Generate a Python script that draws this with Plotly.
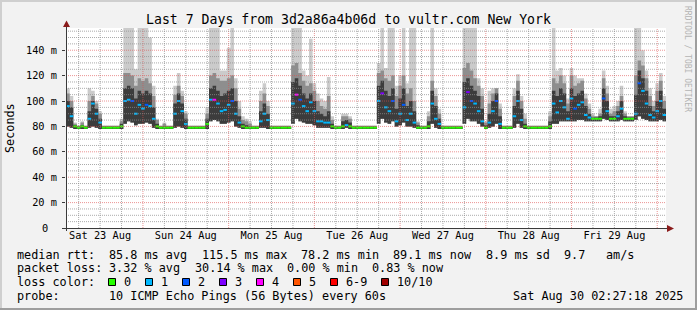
import plotly.graph_objects as go
from datetime import datetime, timedelta

# ---------------- data (hourly, Sat 23 Aug 02:00 .. Sat 30 Aug 02:00) ----------------
median_ms = [
    97, 96, 88, 80, 79, 80, 79, 86, 98, 90, 83, 79, 79, 79, 79, 79, 80, 100, 101, 100, 90, 97,
    94, 97, 96, 86, 80, 79, 79, 79, 79, 90, 100, 92, 82, 79, 79, 79, 79, 79, 82, 101, 101, 98, 92, 93,
    97, 100, 90, 83, 80, 79, 79, 79, 79, 84, 90, 85, 79, 79, 79, 79, 79, 79, 98, 105, 101, 96, 92, 99,
    92, 84, 84, 83, 83, 80, 79, 79, 80, 81, 80, 79, 79, 79, 79, 79, 79, 79, 100, 106, 95, 92, 100, 84,
    90, 97, 85, 90, 83, 79, 79, 79, 80, 98, 86, 82, 79, 79, 79, 79, 79, 79, 95, 107, 100, 98, 92, 84,
    79, 83, 92, 100, 82, 79, 79, 79, 88, 100, 85, 80, 79, 79, 79, 79, 79, 79, 80, 98, 91, 100, 95, 86,
    102, 94, 97, 99, 89, 87, 86, 86, 86, 102, 92, 86, 86, 88, 94, 86, 86, 86, 90, 114, 108, 98, 89, 87,
    92, 100, 89,
]
loss_count = [
    1, 1, 1, 0, 0, 0, 0, 1, 1, 1, 1, 0, 0, 0, 0, 0, 0, 1, 1, 2, 1, 1,
    1, 2, 1, 1, 0, 0, 0, 0, 0, 1, 1, 1, 1, 0, 0, 0, 0, 0, 0, 1, 4, 1, 1, 1,
    1, 2, 1, 1, 0, 0, 0, 0, 0, 1, 1, 1, 0, 0, 0, 0, 0, 0, 1, 4, 2, 1, 1, 1,
    1, 1, 1, 1, 1, 0, 0, 0, 0, 1, 0, 0, 0, 0, 0, 0, 0, 0, 1, 3, 1, 1, 2, 1,
    1, 2, 1, 1, 1, 0, 0, 0, 0, 1, 1, 1, 0, 0, 0, 0, 0, 0, 1, 3, 2, 1, 1, 1,
    0, 1, 1, 2, 1, 0, 0, 0, 1, 1, 1, 0, 0, 0, 0, 0, 0, 0, 0, 1, 1, 1, 1, 1,
    1, 2, 1, 1, 1, 1, 0, 0, 0, 2, 1, 0, 0, 1, 1, 0, 0, 0, 1, 2, 1, 1, 1, 1,
    1, 1, 1,
]
smoke_lo = [
    80, 80, 79, 78, 78, 78, 78, 79, 80, 79, 78, 78, 78, 78, 78, 78, 78, 82, 84, 83, 81, 82,
    82, 83, 82, 79, 78, 78, 78, 78, 78, 79, 80, 79, 78, 78, 78, 78, 78, 78, 78, 84, 85, 84, 82, 82,
    83, 84, 80, 79, 78, 78, 78, 78, 78, 79, 79, 78, 78, 78, 78, 78, 78, 78, 82, 86, 84, 83, 82, 82,
    81, 79, 79, 79, 79, 78, 78, 78, 78, 79, 78, 78, 78, 78, 78, 78, 78, 78, 82, 86, 83, 82, 84, 80,
    81, 83, 80, 80, 79, 78, 78, 78, 78, 82, 79, 78, 78, 78, 78, 78, 78, 78, 82, 86, 84, 84, 82, 80,
    78, 79, 80, 82, 78, 78, 78, 78, 79, 82, 79, 78, 78, 78, 78, 78, 78, 78, 78, 82, 82, 84, 84, 84,
    84, 84, 85, 85, 84, 84, 84, 84, 84, 86, 85, 84, 84, 84, 85, 84, 84, 84, 85, 88, 86, 85, 84, 84,
    84, 85, 84,
]
smoke_core = [
    100, 100, 95, 81, 80, 81, 80, 92, 100, 94, 86, 80, 80, 80, 80, 80, 82, 110, 112, 110, 102, 108,
    106, 108, 106, 95, 82, 80, 80, 80, 80, 98, 106, 98, 86, 80, 80, 80, 80, 80, 86, 110, 112, 108, 104, 106,
    108, 110, 100, 88, 82, 81, 80, 80, 80, 92, 98, 90, 80, 80, 80, 80, 80, 80, 115, 118, 112, 106, 102, 106,
    100, 92, 90, 88, 92, 82, 80, 80, 84, 85, 83, 80, 80, 80, 80, 80, 80, 80, 112, 116, 108, 104, 110, 94,
    102, 110, 96, 100, 92, 81, 80, 80, 84, 108, 96, 86, 80, 80, 80, 80, 80, 80, 115, 118, 112, 108, 104, 94,
    81, 90, 100, 106, 88, 80, 80, 80, 96, 108, 94, 82, 80, 80, 80, 80, 80, 80, 84, 108, 104, 110, 106, 92,
    110, 104, 106, 108, 96, 90, 87, 87, 88, 110, 100, 88, 88, 92, 100, 88, 87, 87, 105, 124, 118, 108, 96, 92,
    100, 108, 94,
]
smoke_hi = [
    106, 106, 100, 82, 80, 83, 80, 100, 104, 98, 90, 80, 80, 80, 80, 80, 84, 122, 122, 120, 112, 118,
    116, 118, 114, 104, 85, 80, 82, 80, 80, 105, 112, 104, 90, 80, 80, 80, 80, 80, 90, 120, 122, 118, 116, 116,
    118, 120, 110, 94, 85, 84, 82, 80, 80, 100, 106, 96, 80, 80, 80, 80, 80, 80, 128, 130, 122, 116, 112, 114,
    108, 100, 96, 94, 104, 85, 80, 80, 88, 88, 86, 80, 80, 80, 80, 80, 80, 80, 122, 124, 118, 116, 120, 104,
    112, 120, 106, 110, 100, 83, 80, 80, 88, 116, 104, 90, 80, 80, 80, 80, 80, 80, 126, 130, 124, 118, 112, 104,
    83, 98, 106, 110, 94, 80, 80, 80, 104, 116, 100, 86, 80, 80, 80, 80, 80, 80, 88, 118, 114, 120, 114, 98,
    120, 112, 114, 116, 102, 94, 88, 88, 90, 118, 106, 90, 92, 96, 104, 90, 88, 88, 120, 132, 128, 118, 104, 96,
    108, 116, 100,
]
smoke_top = [
    110, 110, 104, 83, 81, 84, 81, 110, 108, 100, 92, 81, 81, 81, 81, 81, 86, 158, 158, 158, 125, 158,
    158, 158, 150, 112, 86, 81, 83, 81, 81, 112, 122, 108, 92, 81, 81, 81, 81, 81, 95, 158, 158, 158, 124, 124,
    142, 158, 118, 100, 88, 86, 84, 81, 81, 108, 114, 100, 81, 81, 81, 81, 81, 81, 158, 158, 158, 124, 120, 149,
    114, 106, 102, 100, 119, 88, 81, 81, 90, 90, 88, 81, 81, 81, 81, 81, 81, 81, 130, 158, 126, 158, 158, 112,
    120, 158, 114, 158, 158, 84, 81, 81, 92, 158, 110, 94, 81, 81, 81, 81, 81, 81, 158, 158, 158, 158, 118, 110,
    84, 108, 110, 110, 98, 81, 81, 81, 110, 121, 104, 90, 81, 81, 81, 81, 81, 81, 92, 158, 124, 126, 120, 102,
    126, 120, 118, 118, 106, 98, 90, 88, 94, 124, 112, 94, 96, 100, 112, 92, 88, 88, 158, 158, 140, 124, 110, 100,
    114, 122, 104,
]

y_tick_values = [0, 20, 40, 60, 80, 100, 120, 140]
y_tick_labels = ["0", "20 m", "40 m", "60 m", "80 m", "100 m", "120 m", "140 m"]
day_labels = ["Sat 23 Aug", "Sun 24 Aug", "Mon 25 Aug", "Tue 26 Aug", "Wed 27 Aug", "Thu 28 Aug", "Fri 29 Aug"]

loss_legend = ["0", "1", "2", "3", "4", "5", "6-9", "10/10"]
loss_colors = ["#26ff00", "#00b8ff", "#0059ff", "#7e00ff", "#ff00ff", "#ff5500", "#ff0000", "#a10000"]

title_text = "Last 7 Days from 3d2a86a4b06d to vultr.com New York"
legend_rtt = ["median rtt:", "85.8 ms avg", "115.5 ms max", "78.2 ms min", "89.1 ms now", "8.9 ms sd", "9.7", "am/s"]
legend_loss = ["packet loss:", "3.32 % avg", "30.14 % max", "0.00 % min", "0.83 % now"]
legend_color = ["loss color:"]
legend_probe = ["probe:", "10 ICMP Echo Pings (56 Bytes) every 60s"]
stamp_text = "Sat Aug 30 02:27:18 2025"

# ---------------- geometry / style ----------------
W, H = 697, 310
L, R, T, B = 66, 666, 28, 228
YMAX = 157.5
START = datetime(2025, 8, 23, 2, 27, 18)
END = datetime(2025, 8, 30, 2, 27, 18)
MONO = "DejaVu Sans Mono, Liberation Mono, monospace"
LEG = 11.8
AX = 10.3
CW = 7.1  # legend column width (px)

cols_rtt = [0, 13, 26, 40, 53, 66, 77, 83]
cols_loss = [0, 13, 25, 38, 50]
cols_color = [0]
cols_probe = [0, 13]


def xp(px):
    return (px - L) / (R - L)


def yp(py):
    return (B - py) / (B - T)


def nb(s):
    return s.replace(" ", "\u00a0")


t0 = datetime(2025, 8, 23, 2, 0)
hours = [t0 + timedelta(hours=i) for i in range(len(median_ms))]
half = timedelta(minutes=30)
edges = [h - half for h in hours] + [hours[-1] + half]


def ext(a):
    return list(a) + [a[-1]]


fig = go.Figure()


def band(lo, hi, color):
    fig.add_trace(go.Scatter(x=edges, y=ext(lo), mode="lines", line=dict(width=0, shape="hv"),
                             hoverinfo="skip", showlegend=False))
    fig.add_trace(go.Scatter(x=edges, y=ext(hi), mode="lines", line=dict(width=0, shape="hv"),
                             fill="tonexty", fillcolor=color, hoverinfo="skip", showlegend=False))


band(smoke_lo, smoke_top, "#cbcbcb")
band(smoke_lo, smoke_hi, "#8e8e8e")
band(smoke_lo, smoke_core, "#3c3c3c")


def loss_class(n):
    if n <= 5:
        return n
    if n < 10:
        return 6
    return 7


for k, col in enumerate(loss_colors):
    xs, ys = [], []
    for t, m, n in zip(hours, median_ms, loss_count):
        if loss_class(n) == k:
            xs += [t - half, t + half, None]
            ys += [m, m, None]
    if xs:
        fig.add_trace(go.Scatter(x=xs, y=ys, mode="lines", line=dict(color=col, width=2),
                                 hoverinfo="skip", showlegend=False))

shapes = []
minor_c = "rgba(143,143,143,0.75)"
major_c = "rgba(222,79,79,0.6)"
day0 = datetime(2025, 8, 23)
for i in range(1, 29):
    t = day0 + timedelta(hours=6 * i)
    if t <= START or t >= END:
        continue
    c = major_c if i % 4 == 0 else minor_c
    shapes.append(dict(type="line", xref="x", yref="paper", x0=t, x1=t, y0=0, y1=1, layer="above",
                       line=dict(color=c, width=1, dash="1px,1px")))
v = 5
while v < YMAX:
    c = major_c if v % 20 == 0 else minor_c
    shapes.append(dict(type="line", xref="paper", yref="y", x0=0, x1=1, y0=v, y1=v, layer="above",
                       line=dict(color=c, width=1, dash="1px,1px")))
    v += 5

axis_c = "#3a3a3a"
arrow_c = "#8b1c1c"
shapes.append(dict(type="line", xref="paper", yref="paper", x0=xp(63), x1=xp(669), y0=yp(228.5), y1=yp(228.5),
                   layer="above", line=dict(color=axis_c, width=1)))
shapes.append(dict(type="line", xref="paper", yref="paper", x0=xp(66.5), x1=xp(66.5), y0=yp(231), y1=yp(25),
                   layer="above", line=dict(color=axis_c, width=1)))


def tri(pts, color):
    path = "M " + " L ".join(f"{xp(a)},{yp(b)}" for a, b in pts) + " Z"
    return dict(type="path", xref="paper", yref="paper", path=path, fillcolor=color,
                line=dict(width=0), layer="above")


shapes.append(tri([(66.5, 20.5), (63, 27), (70, 27)], arrow_c))
shapes.append(tri([(674, 228.5), (667, 225), (667, 232)], arrow_c))

for x0, x1, y0, y1, c in [(0, 697, 0, 2, "#cfcfcf"), (0, 2, 0, 310, "#cfcfcf"),
                          (695, 697, 0, 310, "#9e9e9e"), (0, 697, 308, 310, "#9e9e9e")]:
    shapes.append(dict(type="rect", xref="paper", yref="paper", x0=xp(x0), x1=xp(x1), y0=yp(y0), y1=yp(y1),
                       fillcolor=c, line=dict(width=0), layer="above"))

annotations = []


def text(px, py, s, size=LEG, xanchor="left", color="#000000", angle=0):
    annotations.append(dict(xref="paper", yref="paper", x=xp(px), y=yp(py), text=nb(s), showarrow=False,
                            xanchor=xanchor, yanchor="middle", textangle=angle, borderpad=0,
                            font=dict(family=MONO, size=size, color=color)))


text(348.5, 19, title_text, size=13.2, xanchor="center")
text(10, 128, "Seconds", size=LEG, xanchor="center", angle=-90)
text(688, 59, "RRDTOOL / TOBI OETIKER", size=8, xanchor="center", color="#b4b4b4", angle=90)

line_y = [254.5, 268.3, 282.2, 296]
for chunks, cols, yy in [(legend_rtt, cols_rtt, line_y[0]), (legend_loss, cols_loss, line_y[1]),
                         (legend_color, cols_color, line_y[2]), (legend_probe, cols_probe, line_y[3])]:
    for s, c in zip(chunks, cols):
        text(16 + c * CW, yy, s)
text(684, line_y[3], stamp_text, xanchor="right")

box_x = [108.5, 145.5, 182.5, 219.5, 256.5, 293.5, 330.5, 381.5]
for bx, lab, col in zip(box_x, loss_legend, loss_colors):
    shapes.append(dict(type="rect", xref="paper", yref="paper", x0=xp(bx), x1=xp(bx + 7), y0=yp(278.5),
                       y1=yp(285.5), fillcolor=col, line=dict(color="#000000", width=1), layer="above"))
    text(bx + 14.5, line_y[2], lab)

# rrdtool prints the bare "0" two columns left of the unit column
ytext = [t if t != "0" else "" for t in y_tick_labels]
annotations.append(dict(xref="paper", yref="y", x=xp(45), y=0, text=y_tick_labels[0], showarrow=False,
                        xanchor="center", yanchor="middle", borderpad=0,
                        font=dict(family=MONO, size=AX, color="#000000")))

noons = [day0 + timedelta(days=i, hours=12) for i in range(len(day_labels))]

fig.update_layout(
    width=W, height=H, autosize=False,
    margin=dict(l=L, r=W - R, t=T, b=H - B, pad=0),
    paper_bgcolor="#f2f2f2", plot_bgcolor="#ffffff",
    showlegend=False,
    shapes=shapes, annotations=annotations,
    xaxis=dict(type="date", range=[START, END], tickvals=noons, ticktext=day_labels, ticks="",
               showgrid=False, zeroline=False, showline=False,
               tickfont=dict(family=MONO, size=AX, color="#000000")),
    yaxis=dict(range=[0, YMAX], tickvals=y_tick_values, ticktext=ytext, ticks="outside",
               ticklen=3, tickcolor=axis_c, showgrid=False, zeroline=False, showline=False,
               ticklabelstandoff=3,
               tickfont=dict(family=MONO, size=AX, color="#000000")),
)

fig.write_html("out.html")
